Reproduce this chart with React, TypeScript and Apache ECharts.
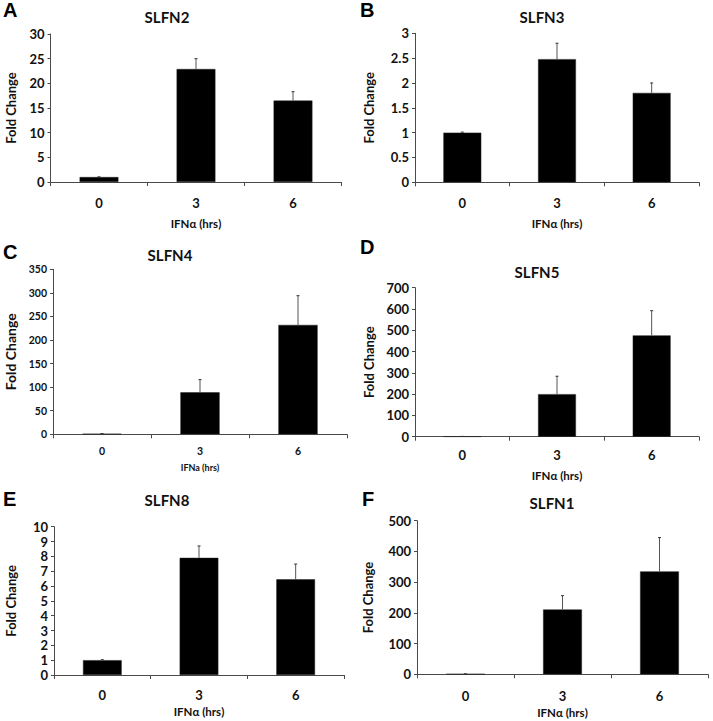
import React, { useEffect, useRef } from "react";
import * as echarts from "echarts";

const hours = ["0", "3", "6"];

const slfn2Values = [1.0, 22.9, 16.5];
const slfn2Errors = [0.05, 2.1, 1.8];
const slfn3Values = [1.0, 2.48, 1.8];
const slfn3Errors = [0.01, 0.32, 0.2];
const slfn4Values = [1, 89, 232];
const slfn4Errors = [0.5, 27, 62];
const slfn5Values = [1, 200, 476];
const slfn5Errors = [0.5, 84, 116];
const slfn8Values = [1.0, 7.9, 6.45];
const slfn8Errors = [0.03, 0.8, 1.03];
const slfn1Values = [1, 211, 335];
const slfn1Errors = [0.5, 45, 110];

const titles = ["SLFN2", "SLFN3", "SLFN4", "SLFN5", "SLFN8", "SLFN1"];
const letters = ["A", "B", "C", "D", "E", "F"];
const xNames = ["IFNα (hrs)", "IFNα (hrs)", "IFNa (hrs)", "IFNα (hrs)", "IFNα (hrs)", "IFNα (hrs)"];
const yMax = [30, 3, 350, 700, 10, 500];
const yStep = [5, 0.5, 50, 100, 1, 100];
const allValues = [slfn2Values, slfn3Values, slfn4Values, slfn5Values, slfn8Values, slfn1Values];
const allErrors = [slfn2Errors, slfn3Errors, slfn4Errors, slfn5Errors, slfn8Errors, slfn1Errors];

// layout (pixels)
const grids = [
  { left: 50.5, top: 34, width: 291, height: 148 },
  { left: 415, top: 33.3, width: 284, height: 149 },
  { left: 53, top: 269.3, width: 294, height: 165 },
  { left: 415, top: 287.7, width: 284, height: 149 },
  { left: 54, top: 526.7, width: 290, height: 148.3 },
  { left: 417, top: 520.7, width: 291, height: 153.6 },
];
const yNameGap = [33, 39.5, 36, 39.5, 36.5, 43];
const yNameSize = [13, 13, 14, 13, 13, 13];
const yLabelSize = [13, 13, 10.5, 13, 13, 13];
const xLabelMargin = [14, 14, 11, 12, 13, 15];
const xLabelSize = [13, 13, 10.5, 13, 13, 13];
const xNameGap = [35, 35, 29, 33, 30, 32];
const xNameSize = [11.5, 11.5, 9, 11.5, 11.5, 11.5];
const titlePos = [
  [167, 17], [542, 17], [170, 255], [537, 272], [167, 500], [552, 503],
];
const letterPos = [
  [3, 0], [360, 0], [3, 242], [360, 237], [3, 489], [362, 489],
];

const FONT = "Lato, 'Open Sans', sans-serif";
const AXIS = "#4a4a4a";

export default function App() {
  const ref = useRef<HTMLDivElement>(null);
  useEffect(() => {
    if (!ref.current) return;
    const chart = echarts.init(ref.current, undefined, { renderer: "svg" });
    const gridOpt = grids.map((g) => ({ ...g, containLabel: false, outerBoundsMode: "none" }));
    const xAxis = grids.map((_, i) => ({
      type: "category",
      gridIndex: i,
      data: hours,
      name: xNames[i],
      nameLocation: "middle",
      nameGap: xNameGap[i],
      nameTextStyle: { fontFamily: FONT, fontWeight: "bold", fontSize: xNameSize[i], color: "#111" },
      axisLine: { show: true, lineStyle: { color: AXIS, width: 1 } },
      axisTick: { show: true, length: 4, lineStyle: { color: AXIS } },
      axisLabel: { margin: xLabelMargin[i], fontFamily: FONT, fontWeight: "bold", fontSize: xLabelSize[i], color: "#111" },
      splitLine: { show: false },
    }));
    const yAxis = grids.map((_, i) => ({
      type: "value",
      gridIndex: i,
      min: 0,
      max: yMax[i],
      interval: yStep[i],
      name: "Fold Change",
      nameLocation: "middle",
      nameRotate: 90,
      nameGap: yNameGap[i],
      nameTextStyle: { fontFamily: FONT, fontWeight: "bold", fontSize: yNameSize[i], color: "#111" },
      axisLine: { show: true, lineStyle: { color: AXIS, width: 1 } },
      axisTick: { show: true, length: 3, lineStyle: { color: AXIS } },
      axisLabel: { margin: 6, fontFamily: FONT, fontWeight: "bold", fontSize: yLabelSize[i], color: "#111" },
      splitLine: { show: false },
    }));
    const series: any[] = [];
    allValues.forEach((vals, i) => {
      series.push({
        type: "bar",
        xAxisIndex: i,
        yAxisIndex: i,
        data: vals,
        barWidth: "40%",
        itemStyle: { color: "#000", borderColor: "#222", borderWidth: 0.5 },
        z: 2,
      });
      series.push({
        type: "custom",
        xAxisIndex: i,
        yAxisIndex: i,
        z: 3,
        data: vals.map((v, j) => [j, v, allErrors[i][j]]),
        encode: { x: 0, y: 1 },
        renderItem: (_p: any, api: any) => {
          const x = api.value(0);
          const v = api.value(1);
          const e = api.value(2);
          const p0 = api.coord([x, v]);
          const p1 = api.coord([x, v + e]);
          return {
            type: "group",
            children: [
              { type: "line", shape: { x1: p0[0], y1: p0[1], x2: p1[0], y2: p1[1] }, style: { stroke: "#555", lineWidth: 1 } },
              { type: "line", shape: { x1: p1[0] - 1.5, y1: p1[1], x2: p1[0] + 1.5, y2: p1[1] }, style: { stroke: "#333", lineWidth: 1 } },
            ],
          };
        },
      });
    });
    const graphic: any[] = [];
    titles.forEach((t, i) => {
      graphic.push({
        type: "text",
        x: titlePos[i][0],
        y: titlePos[i][1],
        style: {
          text: t, fill: "#111", fontFamily: FONT, fontWeight: "bold", fontSize: 15,
          textAlign: "center", textVerticalAlign: "middle", align: "center", verticalAlign: "middle",
        },
      });
    });
    letters.forEach((t, i) => {
      graphic.push({
        type: "text",
        x: letterPos[i][0],
        y: letterPos[i][1],
        style: {
          text: t, fill: "#000", fontFamily: "'Liberation Sans', Arial, sans-serif", fontWeight: "bold", fontSize: 20,
          textAlign: "left", textVerticalAlign: "top", align: "left", verticalAlign: "top",
        },
      });
    });
    chart.setOption({
      animation: false,
      backgroundColor: "#fff",
      grid: gridOpt,
      xAxis,
      yAxis,
      series,
      graphic,
    });
    return () => chart.dispose();
  }, []);
  return <div ref={ref} style={{ position: "fixed", left: 0, top: 0, width: 713, height: 721 }} />;
}
